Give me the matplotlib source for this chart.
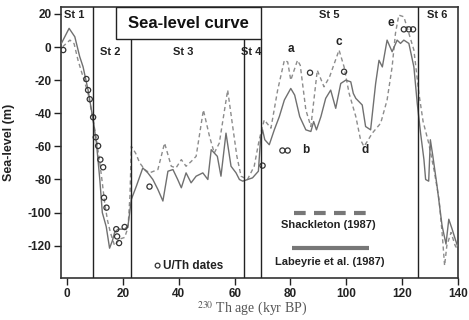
import matplotlib
matplotlib.use("Agg")
import matplotlib.pyplot as plt
from matplotlib.patches import Rectangle

plt.rcParams['font.family'] = ['Liberation Sans', 'DejaVu Sans']
plt.rcParams['mathtext.fontset'] = 'stix'
plt.rcParams['axes.unicode_minus'] = False

# ---- data ----
solid_x = [-2, 0.7, 2.75, 4.5, 5.7, 7.5, 9.3, 10.5, 11.7, 12.6, 14, 15.2, 16.2, 17, 18.2, 20.6, 21.8,
           23, 24.8, 27.1, 28.9, 30.7, 32.5, 34.3, 36.1, 37.9, 39.6, 40.9, 42.6, 44.4, 46.2, 48.6, 50.4,
           51.6, 52.7, 53.8, 55.1, 56.9, 58.7, 60.5, 61.7, 62.9, 66.4, 68.5, 69.3, 70, 70.8, 72.4, 74.2,
           76, 77.8, 80.1, 81.5, 83.3, 85.5, 87.3, 88.3, 89.3, 90.9, 92.6, 94.4, 96.2, 98, 99.8, 101.6,
           102.5, 103.4, 105.7, 106.9, 108.7, 110.5, 111.7, 112.9, 114.6, 116.4, 118.2, 119.4, 120.6,
           122.4, 124.2, 125.4, 126.6, 127.8, 128.4, 129.5, 130.1, 131, 132.5, 134.3, 135.7, 136.7,
           137.9, 139, 139.8]
solid_y = [2.4, 11.3, 6.2, -5.8, -11.9, -26, -44, -58, -80, -100, -108.5, -121.5, -117, -112, -110, -110, -108,
           -92, -84, -73, -76, -80, -86, -93, -75, -74, -80, -85, -76, -82, -78, -76, -80,
           -62, -64, -66, -78, -52, -72, -76, -80, -81, -79, -75, -55, -50, -56, -59, -50,
           -42, -32, -25, -29, -42, -50, -51, -45, -50, -42, -31, -26, -37, -22, -20, -21,
           -28, -31, -35, -48, -50, -22, -8, -12, 4.2, -2.8, 4.2, 2.2, 4.2,
           2.2, -12, -34, -52, -68, -80, -81, -56, -66, -84, -108, -119, -104,
           -110, -116, -120]

dash_x = [-1.6, 1, 2.5, 3.9, 5.7, 7.5, 9.3, 10.5, 11.7, 12.6, 13.5, 14.5, 15.5, 17, 18.8, 20.6, 21.8,
          22.5, 23, 24.5, 26, 27.8, 29.5, 31, 32.5, 34.9, 37.3, 39, 40.9, 42.6, 44.5, 46.2, 48.8, 51,
          52.7, 54.5, 57.5, 59.3, 60.8, 62.3, 64.6, 67, 68.8, 70.6, 73, 75.4, 77.8, 79, 80.1, 82.5,
          83.5, 85.5, 87.3, 89.6, 92, 94, 97.4, 99.2, 101, 103.4, 105.1, 106.3, 107.5, 109.3, 112.3,
          114.6, 116.4, 117.6, 118.8, 120.6, 122.4, 124.2, 126, 127.5, 129.5, 131.5, 133.2, 134.3,
          135.2, 136, 137.5, 139, 139.8]
dash_y = [0.2, 4.2, 2, -8, -18, -28, -44, -56, -70, -82, -95, -105, -112, -120, -116, -115, -109,
          -90, -60, -64, -70, -74, -76, -75, -74, -58, -72, -73, -68, -72, -69, -66, -38, -54,
          -64, -58, -26, -48, -66, -78, -80, -72, -56, -44, -49, -26, -8, -9, -20, -8,
          -11, -38, -48, -14, -24, -18, -1.8, -12, -28, -42, -56, -60, -57, -52, -46,
          -32, -12, 8.3, 19.3, 18.3, 8.3, -1.8, -28, -45, -58, -75, -92, -112,
          -132, -120, -112, -120, -122]

uth_x = [-1.4, 6.9, 7.5, 8.1, 9.3, 10.25, 11.1, 11.9, 12.9, 13.2, 14.1, 17.6, 17.9, 18.6, 20.6,
         29.5, 70, 77.1, 79, 87, 99.2, 120.6, 122.4, 123.9]
uth_y = [-1.8, -19.3, -26, -31.5, -42.4, -54.5, -59.7, -68, -72.6, -91, -97, -110, -114.4, -118.4, -108.7,
         -84.3, -71.6, -62.5, -62.5, -15.5, -14.9, 10.7, 10.7, 10.7]

stage_bounds = [9.2, 22.7, 63.4, 69.4, 125.6]
stage_labels = ['St 1', 'St 2', 'St 3', 'St 4', 'St 5', 'St 6']
stage_lx = [2.7, 15.6, 41.4, 66, 94, 132.4]
stage_ly = [19.4, -3, -3, -3, 19.4, 19.4]
peak_labels = ['a', 'b', 'c', 'd', 'e']
peak_x = [80.3, 85.5, 97.4, 106.6, 116]
peak_y = [-1, -62, 3, -62, 14.6]
xticks = [0, 20, 40, 60, 80, 100, 120, 140]
yticks = [20, 0, -20, -40, -60, -80, -100, -120]

# ---- figure ----
fig = plt.figure(figsize=(4.69, 3.2), dpi=100)
ax = fig.add_axes([61/469, 1-278/320, (458-61)/469, (278-7)/320])
ax.set_xlim(-2.2, 140)
ax.set_ylim(-139.5, 24.2)

ax.plot(dash_x, dash_y, color='#8c8c8c', lw=1.0, ls=(0, (3, 2.2)), zorder=2)
ax.plot(solid_x, solid_y, color='#707070', lw=1.0, zorder=3)
ax.scatter(uth_x, uth_y, s=14, facecolors='none', edgecolors='#333333', linewidths=0.9, zorder=4)

box_bottom = 4.9
for b in stage_bounds:
    top = 24.2 if b in (9.2, 125.6) else box_bottom
    ax.plot([b, b], [-139.5, top], color='#222222', lw=1.0, zorder=5)

ax.add_patch(Rectangle((17.4, box_bottom), 69.5-17.4, 24.2-box_bottom, facecolor='white',
                       edgecolor='#222222', lw=1.0, zorder=6))
ax.text(43.5, 14.5, 'Sea-level curve', ha='center', va='center', fontsize=12, fontweight='bold',
        color='#111111', zorder=7)

for lab, x, y in zip(stage_labels, stage_lx, stage_ly):
    ax.text(x, y, lab, ha='center', va='center', fontsize=8, fontweight='bold', color='#222222', zorder=7)
for lab, x, y in zip(peak_labels, peak_x, peak_y):
    ax.text(x, y, lab, ha='center', va='center', fontsize=8.5, fontweight='bold', color='#222222', zorder=7)

# legend items
ax.scatter([32.4], [-132], s=12, facecolors='none', edgecolors='#333333', linewidths=0.9, zorder=4)
ax.text(34.4, -132, 'U/Th dates', ha='left', va='center', fontsize=8.5, fontweight='bold', color='#222222')
ax.plot([81.3, 107], [-100.5, -100.5], color='#777777', lw=3, ls=(0, (2.8, 2.0)), solid_capstyle='butt',
        dash_capstyle='butt')
ax.text(93.5, -107.5, 'Shackleton (1987)', ha='center', va='center', fontsize=8, fontweight='bold', color='#222222')
ax.plot([80.6, 108], [-121.6, -121.6], color='#777777', lw=3, solid_capstyle='butt')
ax.text(94, -129.8, 'Labeyrie et al. (1987)', ha='center', va='center', fontsize=8, fontweight='bold', color='#222222')

ax.set_xticks(xticks)
ax.set_yticks(yticks)
ax.tick_params(direction='out', length=5, width=1.0, colors='#222222', labelsize=8.5, pad=2)
for lab in ax.get_xticklabels() + ax.get_yticklabels():
    lab.set_fontweight('bold')
for s in ax.spines.values():
    s.set_color('#333333')
    s.set_linewidth(1.2)

ax.set_ylabel('Sea-level (m)', fontsize=9, fontweight='bold', color='#222222')
ax.yaxis.set_label_coords(-0.115, 0.5)
fig.text(0.537, 1-309/320, r'$^{230}$ Th age (kyr BP)', ha='center', va='center', fontsize=10,
         family=['Liberation Serif'], color='#555555')

fig.savefig('out.png', dpi=100)
